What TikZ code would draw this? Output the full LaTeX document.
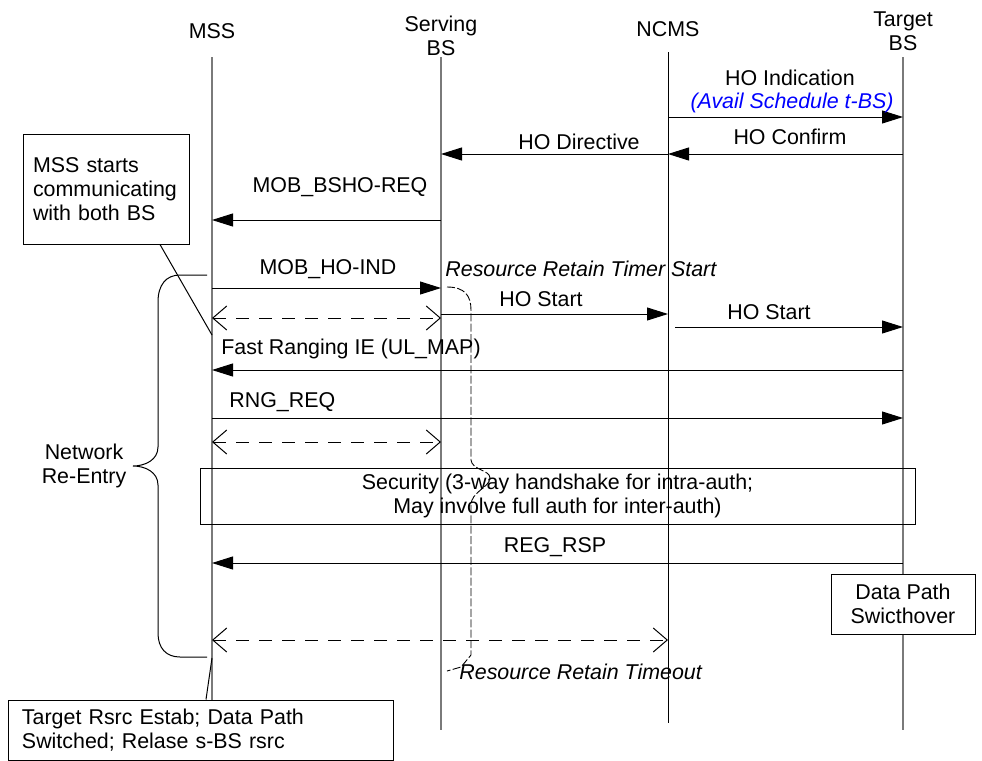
\documentclass[tikz,border=0pt]{standalone}
\usepackage{fontspec}
\setmainfont{Liberation Sans}
\usetikzlibrary{arrows.meta, calc}
\definecolor{sqbg}{HTML}{FFFFFF}
\definecolor{sqtext}{HTML}{000000}
\definecolor{sqlife}{HTML}{7A7A7A}
\definecolor{sqblue}{HTML}{0000FF}
\newcommand\sqfont{\fontsize{10.7}{12}\selectfont}
\tikzset{
  head/.style={align=center, font=\sqfont, text=sqtext, inner sep=0pt},
  life/.style={draw=sqlife, line width=0.6pt},
  msg/.style={-{Triangle[length=10.5pt, width=6.5pt]}, draw=sqtext, line width=0.5pt},
  dmsg/.style={{Straight Barb[length=7pt, width=12pt]}-{Straight Barb[length=7pt, width=12pt]},
              draw=sqtext, line width=0.5pt, dash pattern=on 6.5pt off 5pt},
  lbl/.style={font=\sqfont, text=sqtext, inner sep=0pt},
  ilbl/.style={lbl, font=\sqfont\itshape},
  note/.style={rectangle, draw=sqtext, fill=sqbg, line width=0.5pt, align=left,
              font=\sqfont, text=sqtext, inner ysep=0pt},
  timer/.style={draw=sqtext, line width=0.45pt, dash pattern=on 4pt off 1.2pt},
  brace/.style={draw=sqtext, line width=0.5pt},
}
\begin{document}
\begin{tikzpicture}[x=0.5pt, y=-0.5pt]
      \useasboundingbox (0,0) rectangle (982,761);
      \node[head] (mss) at (212,31) {MSS};
      \node[head] (sbs) at (441,36) {Serving\\BS};
      \node[head] (ncms) at (668,29) {NCMS};
      \node[head] (tbs) at (903,31) {Target\\BS};
      \draw[life] (mss |- 0,57) -- (mss |- 0,700);
      \draw[life] (sbs |- 0,57) -- (sbs |- 0,730);
      \draw[life, draw=sqtext, line width=0.45pt] (ncms |- 0,52) -- (ncms |- 0,723);
      \draw[life] (tbs |- 0,57) -- (tbs |- 0,730);
      \draw[msg] (ncms |- 0,117) -- (tbs |- 0,117);
      \node[lbl] (hoind) at (790,78) {HO Indication};
      \node[ilbl, text=sqblue] (avail) at (792,103) {(Avail Schedule t-BS)};
      \draw[msg] (tbs |- 0,154) -- (ncms |- 0,154);
      \node[lbl] (hoconf) at (790,137) {HO Confirm};
      \draw[msg] (ncms |- 0,154) -- (sbs |- 0,154);
      \node[lbl] (hodir) at (579,142) {HO Directive};
      \draw[msg] (sbs |- 0,220) -- (mss |- 0,220);
      \node[lbl] (bshoreq) at (340,187) {MOB\_BSHO-REQ};
      \draw[msg] (mss |- 0,288) -- (sbs |- 0,288);
      \node[lbl] (hoindmsg) at (328,269) {MOB\_HO-IND};
      \node[ilbl, anchor=west] (rrstart) at (445,269) {Resource Retain Timer Start};
      \draw[dmsg] (mss |- 0,318) -- (sbs |- 0,318);
      \draw[msg] (sbs |- 0,314) -- (ncms |- 0,314);
      \node[lbl] (hostarta) at (541,299) {HO Start};
      \draw[msg] ($(ncms |- 0,327)+(7,0)$) -- (tbs |- 0,327);
      \node[lbl] (hostartb) at (769,312) {HO Start};
      \draw[msg] (tbs |- 0,370) -- (mss |- 0,370);
      \node[lbl, anchor=west] (fastrng) at (221,349) {Fast Ranging IE (UL\_MAP)};
      \draw[msg] (mss |- 0,418) -- (tbs |- 0,418);
      \node[lbl, anchor=west] (rngreq) at (229,402) {RNG\_REQ};
      \draw[dmsg] (mss |- 0,442) -- (sbs |- 0,442);
      \node[rectangle, draw=sqtext, line width=0.5pt, align=center, font=\sqfont, inner sep=0pt,
            minimum width=357.5pt, minimum height=28pt] (sec) at (557.5,496)
            {Security (3-way handshake for intra-auth;\\May involve full auth for inter-auth)};
      \draw[msg] (tbs |- 0,563) -- (mss |- 0,563);
      \node[lbl] (regrsp) at (555,547) {REG\_RSP};
      \node[note, align=center, minimum width=72pt, minimum height=30pt, inner xsep=0pt] (dpsw) at (903,604)
            {Data Path\\Swicthover};
      \draw[dmsg] (mss |- 0,640) -- (ncms |- 0,640);
      \node[ilbl, anchor=west] (rrtimeout) at (459,672) {Resource Retain Timeout};
      \draw[timer] (447,287) .. controls (465,287) and (471,296) .. (471,310) -- (471,460)
            .. controls (472,470) and (490,470) .. (490,478)
            .. controls (490,487) and (471,492) .. (471,505) -- (471,655) -- (461,667) -- (447,671);
      \draw[brace] (207,275) -- (180,275) .. controls (166,275) and (158,285) .. (158,302) -- (158,447)
            .. controls (158,460) and (145,466) .. (133,466)
            .. controls (145,466) and (158,472) .. (158,485) -- (158,633)
            .. controls (158,648) and (166,657) .. (180,657) -- (207,657);
      \node[lbl, align=center] (reentry) at (84,466) {Network\\Re-Entry};
      \node[note, text width=73pt, inner xsep=5pt, minimum height=55pt] (startnote) at (106,189)
            {MSS starts\\communicating\\with both BS};
      \draw[brace] (startnote.south -| 160,0) -- (mss |- 0,335);
      \node[note, text width=178.5pt, inner xsep=7pt, minimum height=30pt] (endnote) at (200.5,730)
            {Target Rsrc Estab; Data Path\\Switched; Relase s-BS rsrc};
      \draw[brace] (endnote.north -| 206,0) -- (mss |- 0,658);
    \end{tikzpicture}
\end{document}
